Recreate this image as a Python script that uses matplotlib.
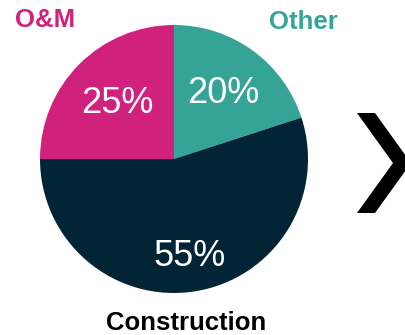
import numpy as np
import matplotlib
matplotlib.use("Agg")
import matplotlib.pyplot as plt
from matplotlib.patches import Polygon

# Data (clockwise from 12 o'clock)
categories = ["Other", "Construction", "O&M"]
shares = [20, 55, 25]
colors = ["#35A497", "#022536", "#D0217C"]
label_colors = ["#35A497", "#000000", "#D0217C"]
pct_dist = [0.62, 0.73, 0.60]

W, H = 405, 335
fig = plt.figure(figsize=(W / 100, H / 100), dpi=100)
plt.rcParams['font.family'] = ['Liberation Sans', 'DejaVu Sans']

cx, cy, r = 174, 159, 134
ax = fig.add_axes([(cx - r) / W, (H - cy - r) / H, 2 * r / W, 2 * r / H])
wedges, _ = ax.pie(shares, colors=colors, startangle=90, counterclock=False,
                   radius=1, wedgeprops=dict(linewidth=0))
ax.set_xlim(-1, 1)
ax.set_ylim(-1, 1)
ax.set_aspect('equal')
ax.axis('off')

# Percent labels inside the wedges
for w, val, d in zip(wedges, shares, pct_dist):
    mid = np.deg2rad((w.theta1 + w.theta2) / 2)
    ax.text(d * np.cos(mid), d * np.sin(mid) - 0.01, f"{val}%", color="white",
            fontsize=26, ha="center", va="center")

# Category labels outside
label_pos = {"Other": (303, 22), "Construction": (186, 323), "O&M": (45, 20)}
for cat, c in zip(categories, label_colors):
    x, y = label_pos[cat]
    fig.text(x / W, 1 - y / H, cat, color=c, fontsize=18.5, fontweight="bold",
             ha="center", va="center")

# Chevron arrow on the right
pts = [(357, 113), (375, 113), (411, 163), (375, 213), (357, 213), (393, 163)]
chev = Polygon([(x / W, 1 - y / H) for x, y in pts], closed=True,
               transform=fig.transFigure, facecolor="black", edgecolor="none")
fig.patches.append(chev)

fig.savefig("out.png", dpi=100)
